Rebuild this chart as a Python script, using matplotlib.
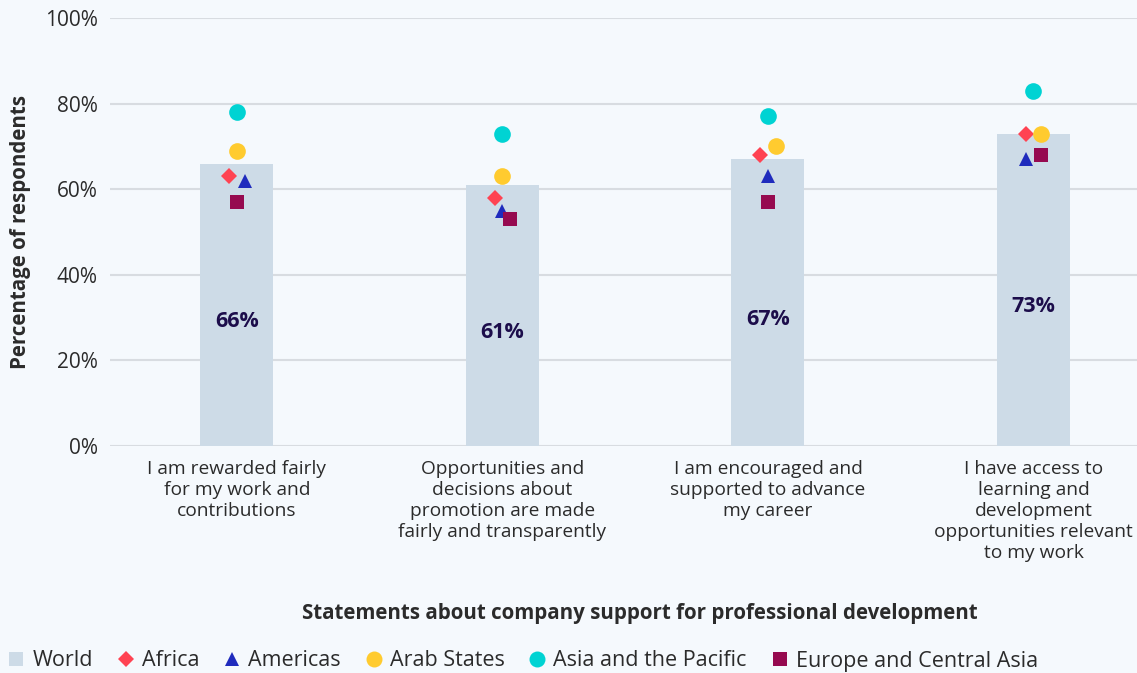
import matplotlib.pyplot as plt
from matplotlib.lines import Line2D
import numpy as np

plt.rcParams["font.family"] = ["Open Sans", "DejaVu Sans"]

statements = [
    "I am rewarded fairly\nfor my work and\ncontributions",
    "Opportunities and\ndecisions about\npromotion are made\nfairly and transparently",
    "I am encouraged and\nsupported to advance\nmy career",
    "I have access to\nlearning and\ndevelopment\nopportunities relevant\nto my work",
]
world = [66, 61, 67, 73]
africa = [63, 58, 68, 73]
americas = [62, 55, 63, 67]
arab_states = [69, 63, 70, 73]
asia_pacific = [78, 73, 77, 83]
europe_central_asia = [57, 53, 57, 68]

regions = [
    ("Africa", africa, "#ff4352", "D", 8.5),
    ("Americas", americas, "#1f2bbd", "^", 10.5),
    ("Arab States", arab_states, "#ffcb2f", "o", 12),
    ("Asia and the Pacific", asia_pacific, "#00d3d3", "o", 12),
    ("Europe and Central Asia", europe_central_asia, "#960a50", "s", 10),
]

text_color = "#2b2b2b"
bg = "#f5f9fd"
fig = plt.figure(figsize=(11.37, 6.73), dpi=100, facecolor=bg)
ax = fig.add_axes([110 / 1137, 1 - 446 / 673, 1 - 110 / 1137, (446 - 18) / 673])
ax.set_facecolor(bg)

x = np.arange(len(statements))
ax.bar(x, world, width=0.275, color="#cddbe7", zorder=2)
for xi, v in zip(x, world):
    ax.text(xi, v / 2 - 4, f"{v}%", ha="center", va="center", fontsize=15.5,
            fontweight="bold", color="#1c0d4b", zorder=4)

# spread markers that would overlap within a category
offsets = np.zeros((len(regions), len(statements)))
for j in range(len(statements)):
    vals = [(r[1][j], i) for i, r in enumerate(regions)]
    vals.sort(key=lambda t: -t[0])
    clusters, cur = [], [vals[0]]
    for prev, nxt in zip(vals, vals[1:]):
        if prev[0] - nxt[0] <= 3.5:
            cur.append(nxt)
        else:
            clusters.append(cur)
            cur = [nxt]
    clusters.append(cur)
    for c in clusters:
        if len(c) > 1:
            idx = sorted(i for _, i in c)
            for k, pos in zip(idx, np.linspace(-0.029, 0.029, len(idx))):
                offsets[k, j] = pos

for i, (name, vals, color, marker, size) in enumerate(regions):
    ax.plot(x + offsets[i], vals, linestyle="none", marker=marker, color=color,
            markersize=size, markeredgewidth=0, zorder=3)

ax.set_xlim(-0.478, 3.39)
ax.set_ylim(0, 100)
ax.set_yticks(range(0, 101, 20))
ax.set_yticklabels([f"{t}%" for t in range(0, 101, 20)])
ax.set_xticks(x)
ax.set_xticklabels(statements, fontsize=13.8, color=text_color, linespacing=1.22)
ax.tick_params(axis="y", labelsize=15, colors=text_color, length=0, pad=9)
ax.tick_params(axis="x", length=0, pad=10)
ax.grid(axis="y", color="#d8dce1", linewidth=1.5, zorder=0)
for s in ax.spines.values():
    s.set_visible(False)

ax.set_ylabel("Percentage of respondents", fontsize=14.8, fontweight="bold",
              color=text_color, labelpad=10)
fig.text(640 / 1137, 1 - 613 / 673,
         "Statements about company support for professional development",
         ha="center", va="center", fontsize=14.8, fontweight="bold", color=text_color)

handles = [Line2D([], [], linestyle="none", marker="s", color="#cddbe7",
                  markersize=10, markeredgewidth=0, label="World")]
for name, vals, color, marker, size in regions:
    handles.append(Line2D([], [], linestyle="none", marker=marker, color=color,
                          markersize=size - 0.5, markeredgewidth=0, label=name))
fig.legend(handles=handles, loc="center left", bbox_to_anchor=(0.003, 1 - 661 / 673),
           ncol=6, frameon=False, fontsize=15.5, handletextpad=0.25,
           columnspacing=1.02, handlelength=1.0, borderaxespad=0.0,
           borderpad=0.1, labelcolor=text_color)

fig.savefig("out.png", dpi=100, facecolor=bg)
